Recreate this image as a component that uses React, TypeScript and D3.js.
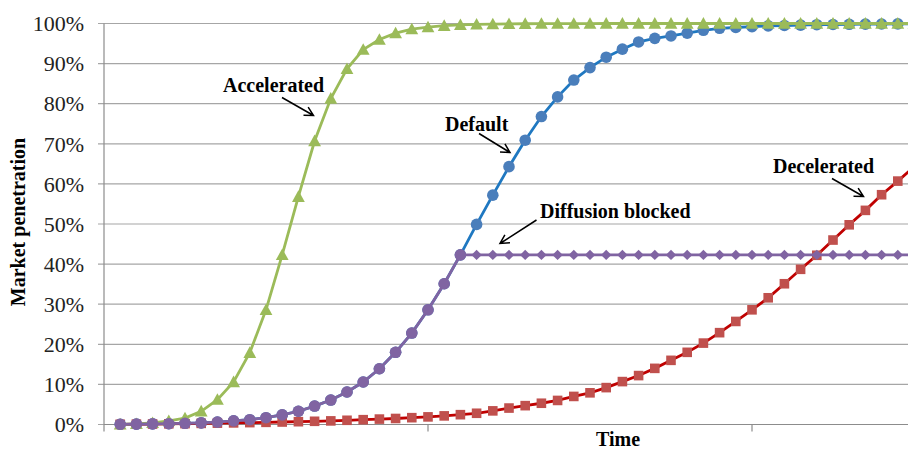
import React from "react";
import * as d3 from "d3";

// ---- data (percent) ----
const timeSteps: number[] = d3.range(1, 51);
const defaultSeries: number[] = [
  0.05, 0.1, 0.15, 0.2, 0.3, 0.4, 0.6, 0.9, 1.2, 1.7, 2.4, 3.3, 4.6, 6.1, 8.1, 10.6, 13.9, 18.0, 22.8, 28.6, 35.1, 42.3,
  49.9, 57.2, 64.3, 70.9, 76.8, 81.7, 85.9, 89.0, 91.6, 93.6, 95.4, 96.3,
  96.9, 97.6, 98.3, 98.8, 99.0, 99.2, 99.4, 99.5, 99.6, 99.7, 99.75, 99.8, 99.85, 99.88, 99.9, 99.92,
];
const acceleratedSeries: number[] = [
  0.05, 0.15, 0.4, 0.9, 1.6, 3.3, 6.2, 10.6, 17.9, 28.6, 42.3, 56.8, 70.7, 81.3, 88.7, 93.5, 96.0, 97.6, 98.6, 99.1,
  99.45, 99.65, 99.78, 99.86, 99.91, 99.94, 99.96, 99.97, 99.98, 99.99,
  100, 100, 100, 100, 100, 100, 100, 100, 100, 100, 100, 100, 100, 100, 100, 100, 100, 100, 100, 100,
];
const deceleratedSeries: number[] = [
  0.05, 0.08, 0.12, 0.17, 0.22, 0.28, 0.34, 0.4, 0.47, 0.54, 0.62, 0.7, 0.8, 0.9, 1.05, 1.2, 1.35, 1.5, 1.7, 1.9,
  2.15, 2.45, 2.8, 3.4, 4.1, 4.7, 5.3, 6.0, 7.0, 7.9, 9.2, 10.7, 12.2, 14.0, 16.0, 18.0, 20.3, 22.9, 25.7, 28.6,
  31.6, 35.1, 38.7, 42.2, 46.0, 49.8, 53.4, 57.3, 60.7, 64.3,
];
const blockedSeries: number[] = [
  0.05, 0.1, 0.15, 0.2, 0.3, 0.4, 0.6, 0.9, 1.2, 1.7, 2.4, 3.3, 4.6, 6.1, 8.1, 10.6, 13.9, 18.0, 22.8, 28.6, 35.1, 42.3,
  42.3, 42.3, 42.3, 42.3, 42.3, 42.3, 42.3, 42.3, 42.3, 42.3, 42.3, 42.3, 42.3, 42.3, 42.3, 42.3, 42.3, 42.3,
  42.3, 42.3, 42.3, 42.3, 42.3, 42.3, 42.3, 42.3, 42.3, 42.3,
];
const yTicks: number[] = [0, 10, 20, 30, 40, 50, 60, 70, 80, 90, 100];
const xTicks: number[] = [0, 20, 40];
const annotationLabels: string[] = ["Accelerated", "Default", "Diffusion blocked", "Decelerated"];

// ---- layout ----
const W = 908;
const H = 450;
const FONT = "'Liberation Serif', 'Times New Roman', serif";
const x = d3.scaleLinear().domain([0, 50]).range([104, 914]);
const y = d3.scaleLinear().domain([0, 100]).range([424.5, 23.5]);

// text position [x, baseline y], arrow [startX, startY, tipX, tipY]
const annotationLayout = [
  { tx: 223, ty: 91.5, arrow: [282, 97.5, 313.5, 115.5] },
  { tx: 445, ty: 131, arrow: [479, 133.5, 510, 152.5] },
  { tx: 540, ty: 218, arrow: [536.5, 220, 500, 243.5] },
  { tx: 773, ty: 172.5, arrow: [832, 178.5, 863.5, 196.5] },
];

type Pt = [number, number];
const toPts = (vals: number[]): Pt[] => vals.map((v, i) => [x(timeSteps[i]), y(v)]);
const line = d3.line<Pt>().x((d) => d[0]).y((d) => d[1]);

const tri = (cx: number, cy: number) =>
  `M${cx},${cy - 6.4}L${cx + 6.4},${cy + 5.2}L${cx - 6.4},${cy + 5.2}Z`;
const diamond = (cx: number, cy: number) =>
  `M${cx},${cy - 5.2}L${cx + 5.2},${cy}L${cx},${cy + 5.2}L${cx - 5.2},${cy}Z`;

function arrowPath(a: number[]) {
  const [sx, sy, tx, ty] = a;
  const dx = tx - sx, dy = ty - sy;
  const len = Math.hypot(dx, dy);
  const ux = dx / len, uy = dy / len;
  const hl = 10, ang = (28 * Math.PI) / 180;
  const rot = (s: number) => {
    const c = Math.cos(s * ang), sn = Math.sin(s * ang);
    return [ux * c - uy * sn, ux * sn + uy * c];
  };
  const [ax, ay] = rot(1);
  const [bx, by] = rot(-1);
  return `M${sx},${sy}L${tx},${ty}M${tx - hl * ax},${ty - hl * ay}L${tx},${ty}L${tx - hl * bx},${ty - hl * by}`;
}

export default function App() {
  const bluePts = toPts(defaultSeries);
  const redPts = toPts(deceleratedSeries);
  const greenPts = toPts(acceleratedSeries);
  const purplePts = toPts(blockedSeries);
  const yAxisX = x(0);
  const y0 = y(0);

  return (
    <div style={{ position: "absolute", left: 0, top: 0 }}>
      <svg width={W} height={H} style={{ display: "block", background: "#fff" }} fontFamily={FONT}>
        <rect width={W} height={H} fill="#fff" />
        {/* gridlines */}
        {yTicks.map((t) => (
          <line key={"g" + t} x1={yAxisX - 6} x2={W} y1={y(t)} y2={y(t)} stroke="#a6a6a6" strokeWidth={1.2} />
        ))}
        {/* y axis */}
        <line x1={yAxisX} x2={yAxisX} y1={y(100)} y2={y0} stroke="#8c8c8c" strokeWidth={1.2} />
        {yTicks.map((t) => (
          <text key={"yl" + t} x={84} y={y(t)} dy="0.35em" textAnchor="end" fontSize={22} fill="#222">
            {t + "%"}
          </text>
        ))}
        {/* x axis */}
        <line x1={yAxisX} x2={W} y1={y0} y2={y0} stroke="#8c8c8c" strokeWidth={1.2} />
        {xTicks.map((t) => (
          <line key={"xt" + t} x1={x(t)} x2={x(t)} y1={y0} y2={y0 + 7} stroke="#8c8c8c" strokeWidth={1.2} />
        ))}
        {/* axis titles */}
        <text
          transform={`translate(25,222) rotate(-90)`}
          textAnchor="middle"
          fontSize={20}
          fontWeight="bold"
          fill="#000"
        >
          Market penetration
        </text>
        <text x={618} y={446} textAnchor="middle" fontSize={20} fontWeight="bold" fill="#000">
          Time
        </text>

        {/* Default (blue) */}
        <path d={line(bluePts) || ""} fill="none" stroke="#1f78c1" strokeWidth={2.8} />
        {bluePts.map((p, i) => (
          <circle key={"b" + i} cx={p[0]} cy={p[1]} r={5.8} fill="#4a7ebb" />
        ))}
        {/* Decelerated (red) */}
        <path d={line(redPts) || ""} fill="none" stroke="#c00000" strokeWidth={2.8} />
        {redPts.map((p, i) => (
          <rect key={"r" + i} x={p[0] - 4.8} y={p[1] - 4.8} width={9.6} height={9.6} fill="#c0504d" />
        ))}
        {/* Accelerated (green) */}
        <path d={line(greenPts) || ""} fill="none" stroke="#9bbb59" strokeWidth={2.8} />
        {greenPts.map((p, i) => (
          <path key={"t" + i} d={tri(p[0], p[1])} fill="#9bbb59" />
        ))}
        {/* Diffusion blocked (purple) */}
        <path d={line(purplePts) || ""} fill="none" stroke="#8064a2" strokeWidth={2.8} />
        {purplePts.map((p, i) =>
          blockedSeries[i] === defaultSeries[i] ? (
            <circle key={"p" + i} cx={p[0]} cy={p[1]} r={5.8} fill="#8064a2" />
          ) : (
            <path key={"p" + i} d={diamond(p[0], p[1])} fill="#8064a2" />
          )
        )}

        {/* annotations */}
        {annotationLabels.map((lab, i) => {
          const a = annotationLayout[i];
          return (
            <g key={"a" + i}>
              <text x={a.tx} y={a.ty} fontSize={20} fontWeight="bold" fill="#000">
                {lab}
              </text>
              <path d={arrowPath(a.arrow)} fill="none" stroke="#000" strokeWidth={1.5} />
            </g>
          );
        })}
      </svg>
    </div>
  );
}
